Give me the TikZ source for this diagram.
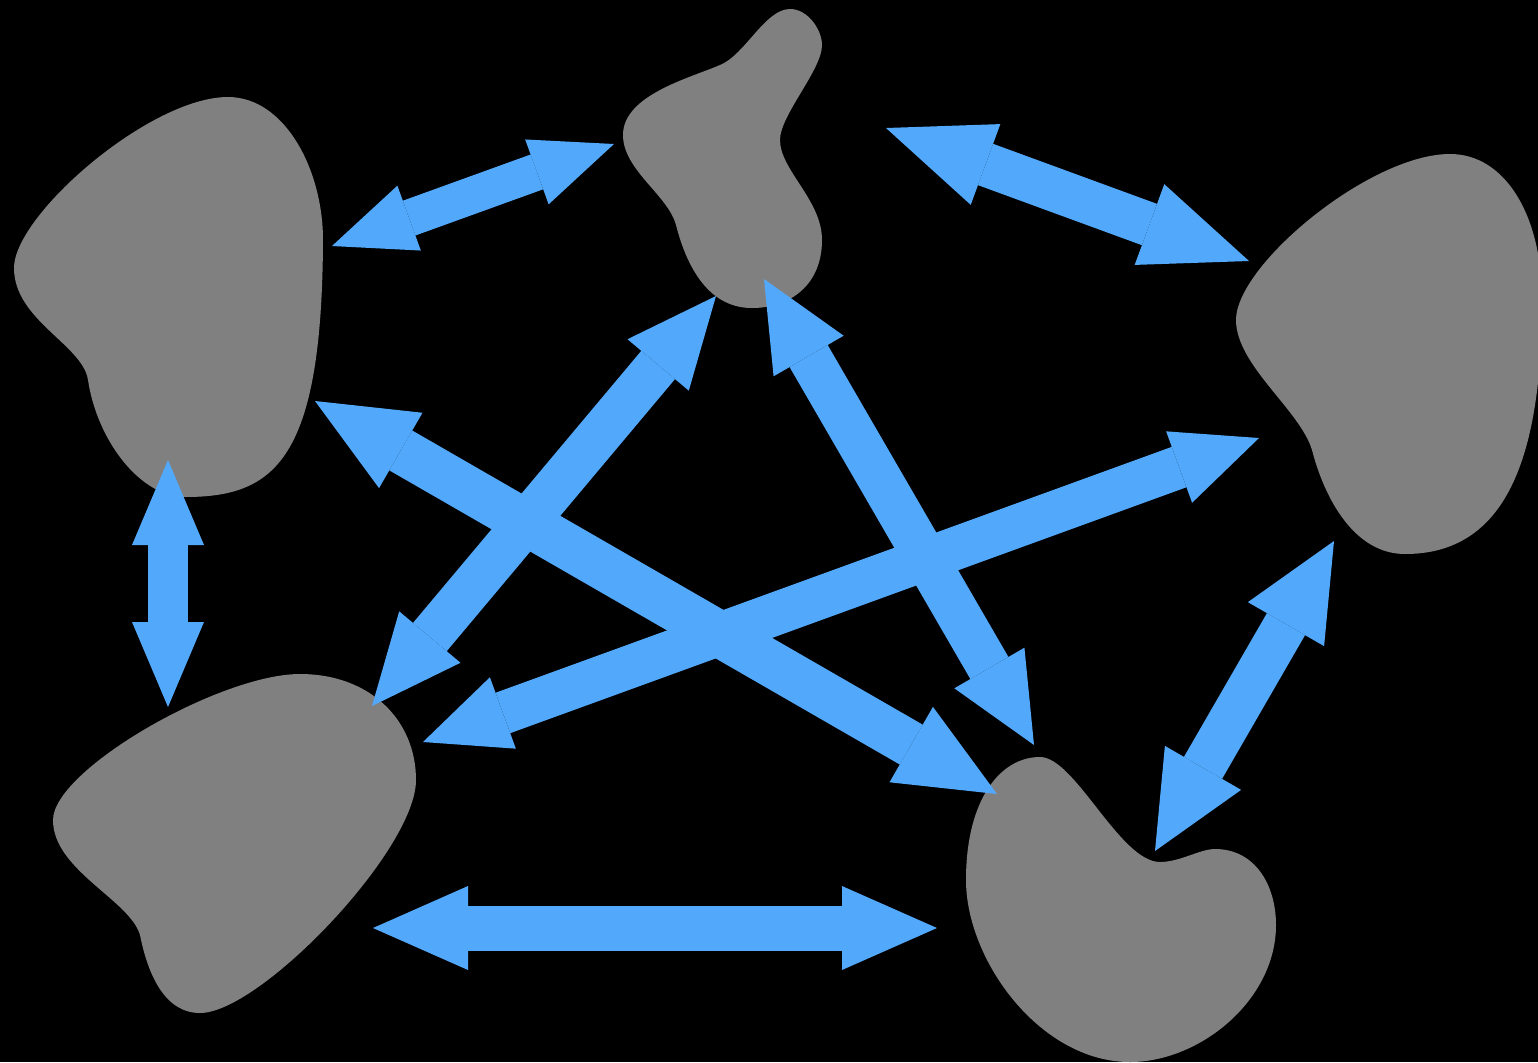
\documentclass[tikz,border=0pt]{standalone}
\usetikzlibrary{arrows.meta}
\definecolor{ablue}{RGB}{82,168,250}
\definecolor{blobgray}{RGB}{128,128,128}
\tikzset{
  blob/.style={fill=blobgray},
  fatarrow/.style n args={3}{draw=ablue, line width=#1, line cap=butt,
    arrows={Triangle[length=#3,width=#2,line width=0pt,fill=ablue]-Triangle[length=#3,width=#2,line width=0pt,fill=ablue]}}
}
\begin{document}
\begin{tikzpicture}[x=0.5pt,y=-0.5pt]
\fill[black] (0,0) rectangle (1538,1062);
\useasboundingbox (0,0) rectangle (1538,1062);
% blob top-left
\fill[blob] (228,97) .. controls (285,97) and (323,170) .. (323,240)
  .. controls (322,460) and (275,497) .. (185,497)
  .. controls (140,497) and (97,440) .. (88,380)
  .. controls (83,345) and (14,320) .. (14,268)
  .. controls (14,215) and (150,97) .. (228,97) -- cycle;
% blob top-centre
\fill[blob] (790,9) .. controls (808,9) and (822,30) .. (822,45)
  .. controls (822,70) and (780,115) .. (780,140)
  .. controls (780,170) and (822,200) .. (822,240)
  .. controls (822,285) and (790,308) .. (752,308)
  .. controls (705,308) and (685,260) .. (676,225)
  .. controls (668,195) and (623,170) .. (623,135)
  .. controls (623,95) and (690,78) .. (720,65)
  .. controls (745,55) and (765,9) .. (790,9) -- cycle;
% blob right
\fill[blob] (1450,154) .. controls (1505,154) and (1542,215) .. (1542,300)
  .. controls (1542,460) and (1505,554) .. (1405,554)
  .. controls (1355,554) and (1325,500) .. (1312,450)
  .. controls (1300,410) and (1236,365) .. (1236,320)
  .. controls (1236,265) and (1370,154) .. (1450,154) -- cycle;
% blob bottom-left
\fill[blob] (300,674) .. controls (370,674) and (416,720) .. (416,780)
  .. controls (416,850) and (260,1013) .. (200,1013)
  .. controls (165,1013) and (148,975) .. (140,935)
  .. controls (130,900) and (53,870) .. (53,820)
  .. controls (53,770) and (220,674) .. (300,674) -- cycle;
% blob bottom-right
\fill[blob] (1040,757) .. controls (1075,757) and (1120,862) .. (1160,862)
  .. controls (1180,862) and (1200,849) .. (1215,849)
  .. controls (1255,849) and (1276,885) .. (1276,925)
  .. controls (1276,1000) and (1200,1062) .. (1130,1062)
  .. controls (1040,1062) and (966,960) .. (966,880)
  .. controls (966,800) and (1000,757) .. (1040,757) -- cycle;
% arrow end points
\coordinate (a1s) at (332,246); \coordinate (a1e) at (614,144);
\coordinate (a2s) at (886,128); \coordinate (a2e) at (1249,261);
\coordinate (a3s) at (168,460); \coordinate (a3e) at (168,707);
\coordinate (a4s) at (373,928); \coordinate (a4e) at (937,928);
\coordinate (a5s) at (716,296); \coordinate (a5e) at (372,706);
\coordinate (a6s) at (315,401); \coordinate (a6e) at (997,794);
\coordinate (a7s) at (764,279); \coordinate (a7e) at (1034,745);
\coordinate (a8s) at (1259,438); \coordinate (a8e) at (423,742);
\coordinate (a9s) at (1334,541); \coordinate (a9e) at (1155,851);
% arrows
\draw[fatarrow={18.5pt}{34.5pt}{41pt}] (a1s) -- (a1e);
\draw[fatarrow={22pt}{43pt}{53pt}] (a2s) -- (a2e);
\draw[fatarrow={20pt}{36pt}{42.5pt}] (a3s) -- (a3e);
\draw[fatarrow={22.5pt}{42pt}{47.5pt}] (a4s) -- (a4e);
\draw[fatarrow={22pt}{44pt}{48pt}] (a9s) -- (a9e);
\draw[fatarrow={22pt}{40pt}{45pt}] (a5s) -- (a5e);
\draw[fatarrow={22pt}{40.5pt}{44.5pt}] (a7s) -- (a7e);
\draw[fatarrow={23pt}{43.5pt}{49.5pt}] (a6s) -- (a6e);
\draw[fatarrow={21.5pt}{38pt}{42.5pt}] (a8s) -- (a8e);
\end{tikzpicture}
\end{document}
